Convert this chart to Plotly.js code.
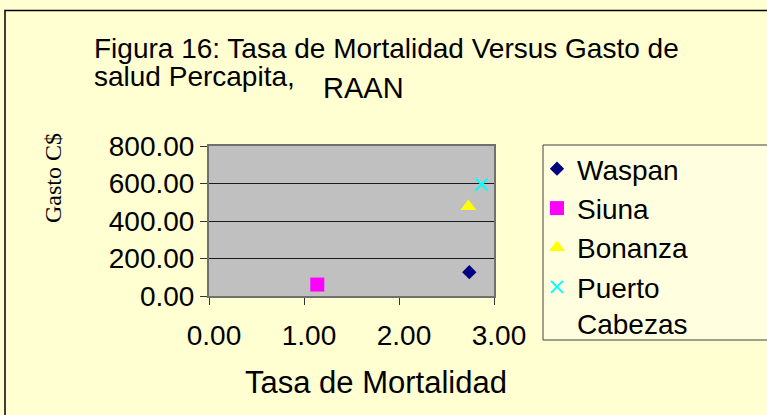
<!DOCTYPE html>
<html>
<head>
<meta charset="utf-8">
<script src="https://cdn.plot.ly/plotly-3.0.1.min.js"></script>
<style>
  html, body { margin: 0; padding: 0; background: #FFFFD2; }
  #chart { width: 767px; height: 415px; }
</style>
</head>
<body>
<div id="chart"></div>
<script>
// municipios de la RAAN
let sitios = ["Waspan", "Siuna", "Bonanza", "Puerto<br>Cabezas"];
let tasaMortalidad = [2.74, 1.14, 2.73, 2.87];
let gastoPercapita = [127, 61, 478, 595];

let colores = ["#000080", "#FF00FF", "#FFFF00", "#00FFFF"];
let simbolos = ["diamond", "square", "triangle-up", "x-thin"];
let tamanos = [11, 14, 14, 12];

// margins of the plot area, in px
let L = 209, R = 273, T = 146, B = 119;
let W = 767 - L - R, H = 415 - T - B;
let px = (x) => (x - L) / W;
let py = (y) => (415 - B - y) / H;

let traces = sitios.map(function(sitio, i) {
    return {
        name: sitio, type: "scatter", mode: "markers",
        x: [tasaMortalidad[i]], y: [gastoPercapita[i]],
        marker: {
            symbol: simbolos[i], size: tamanos[i], color: colores[i],
            line: {color: colores[i], width: simbolos[i] == "x-thin" ? 2 : 0},
        },
    };
});

let font = "Liberation Sans, Arial, sans-serif";

let layout = {
    width: 767, height: 415,
    margin: {l: L, r: R, t: T, b: B, pad: 0},
    paper_bgcolor: "#FFFFD2",
    plot_bgcolor: "#C0C0C0",
    font: {family: font, color: "#000"},
    showlegend: true,
    xaxis: {
        range: [0, 3], dtick: 1, tickformat: ".2f",
        showgrid: false, zeroline: false,
        showline: true, linecolor: "#707070", linewidth: 2, mirror: true,
        ticks: "outside", ticklen: 7, tickcolor: "#333", tickwidth: 1,
        tickfont: {size: 28}, ticklabelstandoff: 6, ticklabelshift: 5,
        fixedrange: true,
    },
    yaxis: {
        range: [0, 800], dtick: 200, tickformat: ".2f",
        showgrid: true, gridcolor: "#1a1a1a", gridwidth: 1, zeroline: false,
        showline: true, linecolor: "#707070", linewidth: 2, mirror: true,
        ticks: "outside", ticklen: 7, tickcolor: "#333", tickwidth: 1,
        tickfont: {size: 28},
        fixedrange: true,
    },
    legend: {
        x: px(537), y: py(144), xanchor: "left", yanchor: "top",
        bgcolor: "rgba(0,0,0,0)", borderwidth: 0,
        font: {size: 28, family: font}, valign: "top",
        tracegroupgap: 0, itemwidth: 30, maxheight: 400,
    },
    annotations: [
        {text: "Figura 16: Tasa de Mortalidad Versus Gasto de", xref: "paper", yref: "paper",
         x: px(92), y: py(48), xanchor: "left", yanchor: "middle", showarrow: false,
         font: {size: 28}},
        {text: "salud Percapita,", xref: "paper", yref: "paper",
         x: px(92), y: py(76), xanchor: "left", yanchor: "middle", showarrow: false,
         font: {size: 28}},
        {text: "RAAN", xref: "paper", yref: "paper",
         x: px(321), y: py(88), xanchor: "left", yanchor: "middle", showarrow: false,
         font: {size: 29}},
        {text: "Tasa de Mortalidad", xref: "paper", yref: "paper",
         x: px(376), y: py(382), xanchor: "center", yanchor: "middle", showarrow: false,
         font: {size: 31}},
        {text: "Gasto C$", xref: "paper", yref: "paper", textangle: -90,
         x: px(53), y: py(178), xanchor: "center", yanchor: "middle", showarrow: false,
         font: {size: 24, family: "Liberation Serif, Times New Roman, serif"}},
    ],
    shapes: [
        {type: "rect", xref: "paper", yref: "paper", layer: "below",
         x0: px(5), x1: px(900), y0: py(600), y1: py(10.5),
         line: {color: "#000", width: 1.5}, fillcolor: "rgba(0,0,0,0)"},
        {type: "rect", xref: "paper", yref: "paper", layer: "below",
         x0: px(543), x1: px(900), y0: py(340), y1: py(145),
         line: {color: "#404040", width: 1}, fillcolor: "#FFFFE0"},
    ],
};

Plotly.newPlot("chart", traces, layout, {displayModeBar: false, staticPlot: true});
</script>
</body>
</html>
